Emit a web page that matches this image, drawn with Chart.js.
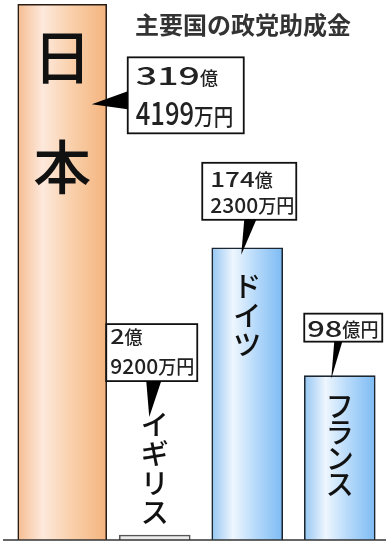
<!DOCTYPE html>
<html>
<head>
<meta charset="utf-8">
<script src="https://cdn.jsdelivr.net/npm/chart.js@4"></script>
<style>
  html, body { margin: 0; padding: 0; background: #fff; }
  #wrap { width: 388px; height: 545px; }
</style>
</head>
<body>
<div id="wrap"><canvas id="c" width="388" height="545"></canvas></div>
<script>
// data (億円)
const countries = ['日本', 'イギリス', 'ドイツ', 'フランス'];
const subsidies = [319.4199, 2.92, 174.23, 98];
const chartTitle = '主要国の政党助成金';
const yMax = 322;

const JP = '"Noto Sans CJK JP", "Noto Sans", sans-serif';

// 319.4199 -> ['319億', '4199万円']
function yenLines(v) {
  const oku = Math.floor(v);
  const man = Math.round((v - oku) * 10000);
  return man ? [oku + '億', man + '万円'] : [oku + '億円'];
}

function grad(chart, idx, half, stops) {
  const cx = chart.scales.x.getPixelForValue(idx);
  const g = chart.ctx.createLinearGradient(cx - half, 0, cx + half, 0);
  stops.forEach(s => g.addColorStop(s[0], s[1]));
  return g;
}
const orangeStops = [[0, '#f5bd92'], [0.28, '#fde9dc'], [0.6, '#f9d0ab'], [1, '#f4b47e']];
const blueStops = [[0, '#95c6f2'], [0.3, '#eef6fe'], [0.6, '#b9dbfa'], [1, '#7dbbf4']];

// callout look, relative to bar centre x / bar top y
const callouts = [
  { box: [65.5, 53, 116, 76], ptr: [[29.5, 100], [65.5, 87], [65.5, 105]], pad: 8, base: [28, 68],
    seg: [[25, 1.5, 18, 1.0], [32, 0.8, 23, 0.85]] },
  { box: [-48.5, -211, 91, 57], ptr: [[-8.5, -154], [6.5, -154], [-5.5, -118]], pad: 4, base: [20, 50],
    seg: [[20, 1.25, 18, 1.0], [21, 1.0, 19, 0.95]] },
  { box: [-45, -85, 94, 57], ptr: [[-3, -28], [9, -28], [-6, 7]], pad: 8, base: [24, 50],
    seg: [[20, 1.3, 18, 1.0], [21, 1.0, 19, 0.95]] },
  { box: [-35.5, -62, 78, 28], ptr: [[-5.5, -34], [2.5, -34], [-8.5, 3]], pad: 3, base: [23],
    seg: [[22, 1.4, 19, 0.95]] }
];
// vertical name labels: first glyph centre relative to bar top, pitch
const nameStyle = [
  { font: '500 58px ' + JP, start: 53, pitch: 110 },
  { font: '500 28px ' + JP, start: -111, pitch: 29.5 },
  { font: '500 28px ' + JP, start: 39, pitch: 29 },
  { font: '500 28px ' + JP, start: 31, pitch: 26 }
];

function drawSegs(ctx, x, y, parts) {
  parts.forEach(p => {
    ctx.save();
    ctx.font = '500 ' + p.size + 'px ' + JP;
    ctx.translate(x, y);
    ctx.scale(p.sx, 1);
    ctx.fillText(p.t, 0, 0);
    const w = ctx.measureText(p.t).width * p.sx;
    ctx.restore();
    x += w;
  });
}

const decor = {
  id: 'decor',
  afterDatasetsDraw(chart) {
    const ctx = chart.ctx;
    const y0 = chart.scales.y.getPixelForValue(0);
    ctx.save();
    // baseline
    ctx.strokeStyle = '#333';
    ctx.lineWidth = 1.6;
    ctx.beginPath();
    ctx.moveTo(3, y0);
    ctx.lineTo(chart.chartArea.right, y0);
    ctx.stroke();

    // title
    ctx.fillStyle = '#333';
    ctx.font = 'bold 24px ' + JP;
    ctx.textAlign = 'center';
    ctx.textBaseline = 'middle';
    ctx.fillText(chartTitle, 243, 25);

    countries.forEach((name, i) => {
      const ds = i === 0 ? 0 : 1;
      const bar = chart.getDatasetMeta(ds).data[i];
      const cx = bar.x, top = bar.y;

      // vertical name
      const ns = nameStyle[i];
      ctx.fillStyle = '#111';
      ctx.font = ns.font;
      ctx.textAlign = 'center';
      ctx.textBaseline = 'middle';
      Array.from(name).forEach((ch, k) => {
        ctx.fillText(ch, cx, top + ns.start + k * ns.pitch);
      });

      // callout
      const c = callouts[i];
      const bx = cx + c.box[0], by = top + c.box[1];
      ctx.fillStyle = '#fff';
      ctx.fillRect(bx, by, c.box[2], c.box[3]);
      ctx.strokeStyle = '#111';
      ctx.lineWidth = 1.8;
      ctx.strokeRect(bx, by, c.box[2], c.box[3]);
      ctx.fillStyle = '#000';
      ctx.beginPath();
      c.ptr.forEach((p, k) => {
        if (k === 0) ctx.moveTo(cx + p[0], top + p[1]);
        else ctx.lineTo(cx + p[0], top + p[1]);
      });
      ctx.closePath();
      ctx.fill();

      ctx.fillStyle = '#222';
      ctx.textAlign = 'left';
      ctx.textBaseline = 'alphabetic';
      yenLines(subsidies[i]).forEach((line, k) => {
        const m = line.match(/^(\d+)(.*)$/);
        const s = c.seg[k];
        drawSegs(ctx, bx + c.pad, by + c.base[k], [
          { t: m[1], size: s[0], sx: s[1] },
          { t: m[2], size: s[2], sx: s[3] }
        ]);
      });
    });
    ctx.restore();
  }
};

new Chart(document.getElementById('c').getContext('2d'), {
  type: 'bar',
  data: {
    labels: countries,
    datasets: [
      {
        data: subsidies.map((v, i) => i === 0 ? v : null),
        barThickness: 89,
        grouped: false,
        borderWidth: 1.6,
        borderColor: '#2a1c12',
        backgroundColor: c => c.chart.chartArea ? grad(c.chart, c.dataIndex, 44.5, orangeStops) : '#f5bd92'
      },
      {
        data: subsidies.map((v, i) => i === 0 ? null : v),
        barThickness: 71,
        grouped: false,
        borderWidth: 1.6,
        borderColor: c => c.dataIndex === 1 ? '#555' : '#1c2630',
        backgroundColor: c => {
          if (c.dataIndex === 1) return '#ececec';
          return c.chart.chartArea ? grad(c.chart, c.dataIndex, 35.5, blueStops) : '#95c6f2';
        }
      }
    ]
  },
  options: {
    responsive: false,
    animation: false,
    devicePixelRatio: 1,
    layout: { padding: { left: 16, right: 2, top: 0, bottom: 5 } },
    plugins: { legend: { display: false }, tooltip: { enabled: false }, title: { display: false } },
    scales: {
      x: { display: false },
      y: { display: false, min: 0, max: yMax }
    }
  },
  plugins: [decor]
});
</script>
</body>
</html>
